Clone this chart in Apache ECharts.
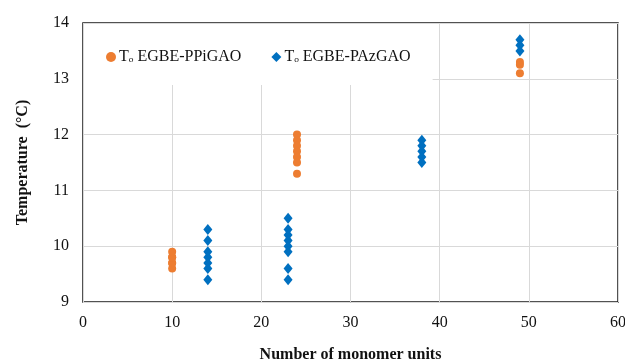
<!DOCTYPE html>
<html>
<head>
<meta charset="utf-8">
<script src="https://cdn.jsdelivr.net/npm/echarts@6/dist/echarts.min.js"></script>
<style>
  html, body { margin: 0; padding: 0; background: #fff; }
  #chart { width: 625px; height: 361px; }
</style>
</head>
<body>
<div id="chart"></div>
<script>
// Cloud-point temperatures vs. chain length
const seriesNames = ['T\u2092 EGBE-PPiGAO', 'T\u2092 EGBE-PAzGAO'];

const ppigaoUnits = [10, 10, 10, 10, 10, 10, 24, 24, 24, 24, 24, 24, 24, 49, 49, 49];
const ppigaoTemps = [9.6, 9.7, 9.7, 9.8, 9.8, 9.9, 12.0, 11.9, 11.8, 11.7, 11.6, 11.5, 11.3, 13.3, 13.25, 13.1];

const pazgaoUnits = [14, 14, 14, 14, 14, 14, 14, 23, 23, 23, 23, 23, 23, 23, 23, 38, 38, 38, 38, 38, 49, 49, 49];
const pazgaoTemps = [10.3, 10.1, 9.9, 9.8, 9.7, 9.6, 9.4, 10.5, 10.3, 10.2, 10.1, 10.0, 9.9, 9.6, 9.4, 11.9, 11.8, 11.7, 11.6, 11.5, 13.7, 13.6, 13.5];

const xTicks = [0, 10, 20, 30, 40, 50, 60];
const yTicks = [9, 10, 11, 12, 13, 14];

const pairs = (xs, ys) => xs.map((x, i) => [x, ys[i]]);
const serif = '"Liberation Serif", "Times New Roman", serif';

const chart = echarts.init(document.getElementById('chart'));
chart.setOption({
  animation: false,
  backgroundColor: '#fff',
  grid: { left: 83, right: 7, top: 23, bottom: 59, containLabel: false, outerBoundsMode: 'none',
          show: true, borderColor: '#1a1a1a', borderWidth: 1.5, backgroundColor: 'transparent' },
  legend: {
    left: 84, top: 24, z: 4,
    width: 360, height: 56,
    padding: [25, 22, 20, 22],
    itemGap: 30,
    itemWidth: 10, itemHeight: 10,
    backgroundColor: '#fff',
    textStyle: { fontFamily: serif, fontSize: 16, color: '#111', padding: [0, 0, 0, -2] },
    data: [
      { name: seriesNames[0], icon: 'circle', itemStyle: { color: '#ED7D31' } },
      { name: seriesNames[1], icon: 'diamond', itemStyle: { color: '#0070C0' } }
    ]
  },
  xAxis: {
    type: 'value', min: xTicks[0], max: xTicks[xTicks.length - 1], interval: 10,
    name: 'Number of monomer units', nameLocation: 'middle', nameGap: 45,
    nameTextStyle: { fontFamily: serif, fontSize: 16, fontWeight: 'bold', color: '#111' },
    axisLine: { show: false }, axisTick: { show: false },
    axisLabel: { fontFamily: serif, fontSize: 16, color: '#111', margin: 13 },
    splitLine: { show: true, lineStyle: { color: '#d9d9d9', width: 1 } }
  },
  yAxis: {
    type: 'value', min: yTicks[0], max: yTicks[yTicks.length - 1], interval: 1,
    name: 'Temperature  (\u00B0C)', nameLocation: 'middle', nameGap: 52,
    nameTextStyle: { fontFamily: serif, fontSize: 16, fontWeight: 'bold', color: '#111' },
    axisLine: { show: false }, axisTick: { show: false },
    axisLabel: { fontFamily: serif, fontSize: 16, color: '#111', margin: 14 },
    splitLine: { show: true, lineStyle: { color: '#d9d9d9', width: 1 } }
  },
  series: [
    {
      name: seriesNames[0], type: 'scatter', symbol: 'circle', symbolSize: 8, z: 5,
      itemStyle: { color: '#ED7D31', opacity: 1 },
      data: pairs(ppigaoUnits, ppigaoTemps)
    },
    {
      name: seriesNames[1], type: 'scatter', symbol: 'diamond', symbolSize: [9, 11], z: 5,
      itemStyle: { color: '#0070C0', opacity: 1 },
      data: pairs(pazgaoUnits, pazgaoTemps)
    }
  ]
});
</script>
</body>
</html>
